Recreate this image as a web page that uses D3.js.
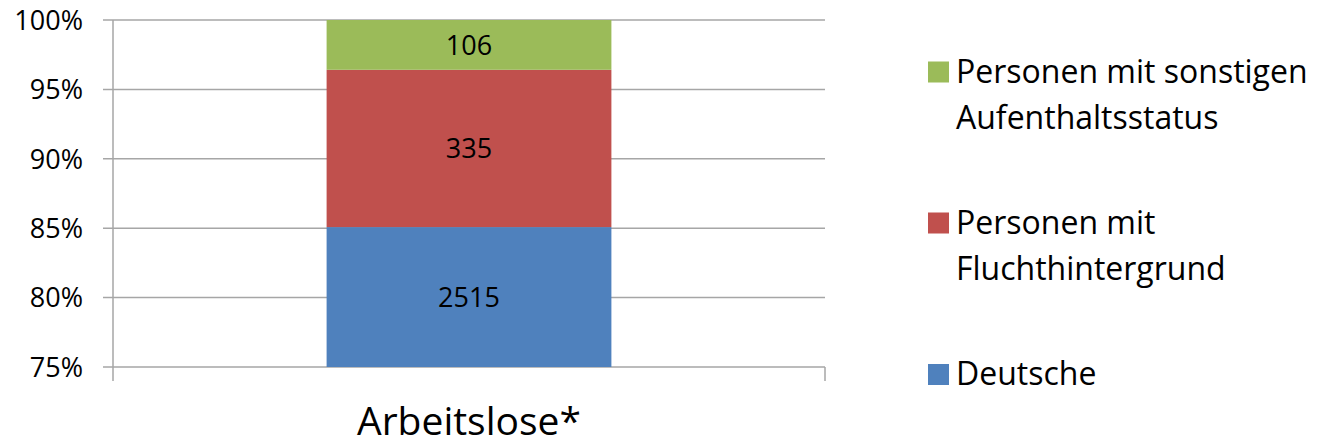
<!DOCTYPE html>
<html><head><meta charset="utf-8">
<script src="https://cdn.jsdelivr.net/npm/d3@7"></script>
<style>body{margin:0;background:#fff}svg{display:block}text{font-family:"Open Sans",Lato,sans-serif;fill:#000}</style>
</head><body><svg id="c" width="1318" height="447"></svg>
<script>
const categories = ["Arbeitslose*"];
const seriesNames = ["Deutsche", "Personen mit Fluchthintergrund", "Personen mit sonstigen Aufenthaltsstatus"];
const seriesValues = [[2515], [335], [106]];
const seriesColors = ["#4F81BD", "#C0504D", "#9BBB59"];
const legendLines = [["Deutsche"], ["Personen mit", "Fluchthintergrund"], ["Personen mit sonstigen", "Aufenthaltsstatus"]];
const yTicks = [0.75, 0.80, 0.85, 0.90, 0.95, 1.00];

(function(){
const svg = d3.select("#c");
const pL = 113, pR = 825, pT = 20, pB = 367;
const x = d3.scaleBand().domain(categories).range([pL, pR]).paddingInner(0).paddingOuter(0.75);
const y = d3.scaleLinear().domain([0.75, 1]).range([pB, pT]);
const grid = "#A6A6A6";

svg.append("g").selectAll("line").data(yTicks).join("line")
  .attr("x1", pL - 10).attr("x2", pR)
  .attr("y1", d => y(d)).attr("y2", d => y(d))
  .attr("stroke", grid).attr("stroke-width", 1.5);

svg.append("g").selectAll("text").data(yTicks).join("text")
  .attr("x", 83).attr("y", d => y(d)).attr("dy", "0.36em")
  .attr("text-anchor", "end").attr("font-size", 27)
  .text(d => d3.format(".0%")(d));

const stackData = categories.map((c, i) => {
  const o = {cat: c};
  seriesNames.forEach((s, j) => o[s] = seriesValues[j][i]);
  return o;
});
const layers = d3.stack().keys(seriesNames).offset(d3.stackOffsetExpand)(stackData);
const bw = x.bandwidth();
layers.forEach((layer, j) => {
  const g = svg.append("g");
  layer.forEach(d => {
    const y0 = Math.max(d[0], 0.75), y1 = d[1];
    g.append("rect")
      .attr("x", x(d.data.cat)).attr("width", bw)
      .attr("y", y(y1)).attr("height", y(y0) - y(y1))
      .attr("fill", seriesColors[j]);
    g.append("text")
      .attr("x", x(d.data.cat) + bw / 2)
      .attr("y", (y(y0) + y(y1)) / 2).attr("dy", "0.36em")
      .attr("text-anchor", "middle").attr("font-size", 27)
      .text(d.data[seriesNames[j]]);
  });
});

svg.append("line").attr("x1", pL).attr("x2", pL).attr("y1", pT).attr("y2", pB + 14)
  .attr("stroke", grid).attr("stroke-width", 1.5);
svg.append("line").attr("x1", pR).attr("x2", pR).attr("y1", pB).attr("y2", pB + 14)
  .attr("stroke", grid).attr("stroke-width", 1.5);

svg.append("g").selectAll("text").data(categories).join("text")
  .attr("x", d => x(d) + bw / 2).attr("y", 435)
  .attr("text-anchor", "middle").attr("font-size", 39)
  .text(d => d);

const legendTop = [364, 212.5, 61.5];
const lg = svg.append("g");
seriesNames.forEach((s, j) => {
  lg.append("rect").attr("x", 928).attr("y", legendTop[j]).attr("width", 21).attr("height", 21)
    .attr("fill", seriesColors[j]);
  legendLines[j].forEach((ln, k) => {
    lg.append("text").attr("x", 956).attr("y", legendTop[j] + 21 + k * 46.5)
      .attr("font-size", 32).text(ln);
  });
});
})();
</script></body></html>
